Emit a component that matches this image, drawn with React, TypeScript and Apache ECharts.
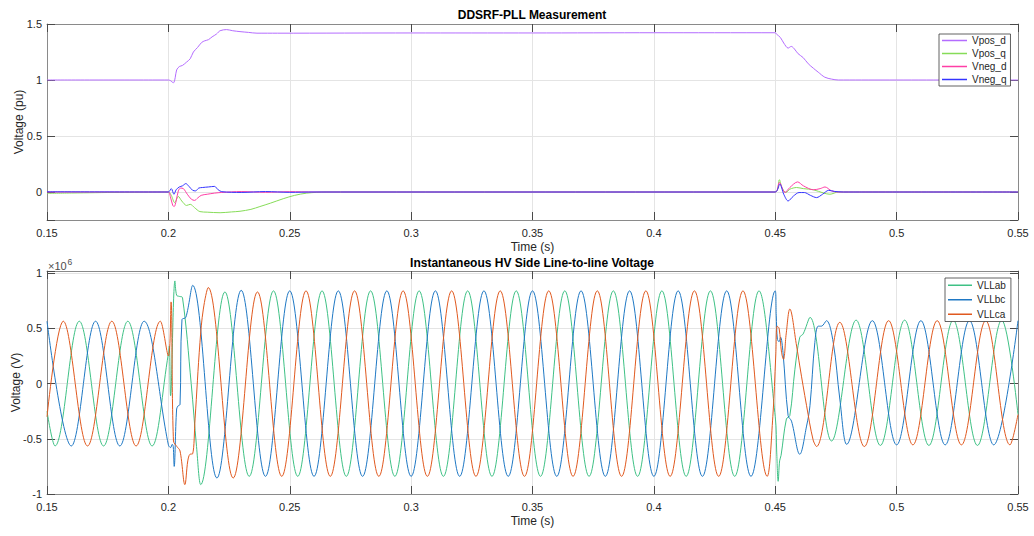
import React, { useEffect, useRef } from "react";
import * as echarts from "echarts";

// ---------- axes ----------
const timeMin = 0.15;
const timeMax = 0.55;
const timeStep = 0.05;
const puMin = -0.25;
const puMax = 1.5;
const puStep = 0.5;
const mvMin = -1;
const mvMax = 1.02;
const mvStep = 0.5;

const topTitle = "DDSRF-PLL Measurement";
const bottomTitle = "Instantaneous HV Side Line-to-line Voltage";
const topNames = ["Vpos_d", "Vpos_q", "Vneg_d", "Vneg_q"];
const bottomNames = ["VLLab", "VLLbc", "VLLca"];

// ---------- top panel (pu) : [time s, value pu] ----------
const vposD: [number, number][] = [
  [0.15, 1.0], [0.2, 1.0], [0.2008, 0.995], [0.2021, 0.975], [0.2028, 1.02], [0.2034, 1.09],
  [0.2045, 1.12], [0.2058, 1.13], [0.2075, 1.16], [0.209, 1.19], [0.2103, 1.25], [0.212, 1.29],
  [0.2137, 1.335], [0.215, 1.35], [0.2165, 1.36], [0.218, 1.385], [0.2198, 1.41], [0.2213, 1.44],
  [0.224, 1.45], [0.2265, 1.44], [0.2295, 1.432], [0.233, 1.425], [0.2365, 1.418], [0.245, 1.418],
  [0.3, 1.42], [0.35, 1.42], [0.4, 1.422], [0.45, 1.422], [0.4505, 1.41], [0.4521, 1.38],
  [0.4535, 1.33], [0.4553, 1.285], [0.4566, 1.3], [0.4578, 1.28], [0.4594, 1.235], [0.4615, 1.2],
  [0.4636, 1.145], [0.4657, 1.105], [0.4677, 1.07], [0.4704, 1.025], [0.4732, 1.008], [0.476, 1.0],
  [0.55, 1.0],
];
const vposQ: [number, number][] = [
  [0.15, -0.012], [0.16, -0.009], [0.17, -0.006], [0.18, -0.003], [0.19, -0.001], [0.2, 0],
  [0.2012, -0.03], [0.2026, -0.095], [0.2041, -0.04], [0.2055, -0.08], [0.2075, -0.12], [0.209, -0.11],
  [0.2108, -0.14], [0.213, -0.175], [0.216, -0.18], [0.2213, -0.185], [0.226, -0.178], [0.2295, -0.172],
  [0.234, -0.155], [0.2377, -0.13], [0.242, -0.1], [0.2473, -0.06], [0.252, -0.03], [0.257, -0.01],
  [0.265, 0], [0.45, 0], [0.4517, 0.11], [0.4527, 0.04], [0.4544, -0.005], [0.456, 0.025],
  [0.4588, 0.04], [0.4616, 0.03], [0.4657, 0.02], [0.47, -0.01], [0.4725, -0.02], [0.476, 0], [0.55, 0],
];
const vnegD: [number, number][] = [
  [0.15, 0], [0.2, 0], [0.2008, -0.04], [0.2018, -0.12], [0.2024, -0.13], [0.2032, -0.08],
  [0.2041, 0.01], [0.205, 0.035], [0.2062, 0.03], [0.2078, -0.02], [0.2095, -0.065], [0.2108, -0.075],
  [0.212, -0.055], [0.2135, -0.03], [0.216, -0.02], [0.219, -0.01], [0.222, -0.004], [0.23, 0.004],
  [0.24, -0.003], [0.25, 0.003], [0.26, 0], [0.45, 0], [0.4517, 0.085], [0.454, -0.005],
  [0.456, 0.04], [0.4592, 0.09], [0.4616, 0.055], [0.4657, 0.02], [0.4685, 0.03], [0.4705, 0.045],
  [0.4732, 0.01], [0.476, 0], [0.55, 0],
];
const vnegQ: [number, number][] = [
  [0.15, 0.002], [0.2, 0], [0.2012, 0.03], [0.2023, -0.02], [0.2032, 0.02], [0.2045, 0.045],
  [0.2058, 0.055], [0.2072, 0.075], [0.2085, 0.05], [0.21, 0.015], [0.2112, 0.01], [0.2125, 0.035],
  [0.214, 0.04], [0.2165, 0.045], [0.219, 0.05], [0.2205, 0.02], [0.222, 0.003], [0.23, -0.004],
  [0.24, 0.004], [0.25, -0.003], [0.26, 0], [0.45, 0], [0.4519, 0.07], [0.4535, -0.02],
  [0.4553, -0.08], [0.4575, -0.036], [0.4598, -0.005], [0.462, -0.005], [0.4645, -0.03],
  [0.467, -0.05], [0.4695, -0.02], [0.472, 0.015], [0.4745, 0.005], [0.478, 0], [0.55, 0],
];

// ---------- bottom panel (x10^6 V) : [time s, value] — peaks, troughs and transient points ----------
const vllAB: [number, number][] = [
  [0.15, -0.25], [0.1533, -0.565], [0.1633, 0.565], [0.1733, -0.565], [0.1833, 0.565], [0.1933, -0.565],
  [0.2, 0.27], [0.2004, 0.34], [0.2009, -0.11], [0.2027, 0.93], [0.2034, 0.8], [0.2045, 0.79],
  [0.2058, 0.78], [0.2094, 0.0], [0.2116, -0.57], [0.2133, -0.915],
  [0.2233, 0.83], [0.2333, -0.84], [0.2433, 0.84], [0.2533, -0.84], [0.2633, 0.84], [0.2733, -0.84],
  [0.2833, 0.84], [0.2933, -0.84], [0.3033, 0.84], [0.3133, -0.84], [0.3233, 0.84], [0.3333, -0.84],
  [0.3433, 0.84], [0.3533, -0.84], [0.3633, 0.84], [0.3733, -0.84], [0.3833, 0.84], [0.3933, -0.84],
  [0.4033, 0.84], [0.4133, -0.84], [0.4233, 0.84], [0.4333, -0.84], [0.4433, 0.84],
  [0.45, -0.3], [0.4506, -0.62], [0.4512, -0.885], [0.4518, -0.7], [0.4524, -0.65], [0.4546, -0.32],
  [0.456, -0.29], [0.4581, 0.13], [0.4601, 0.42], [0.4615, 0.45], [0.4643, 0.6], [0.4732, -0.52],
  [0.4833, 0.575], [0.4933, -0.56], [0.5033, 0.575], [0.5133, -0.56], [0.5233, 0.575], [0.5333, -0.56],
  [0.5433, 0.575], [0.55, -0.28],
];
const vllBC: [number, number][] = [
  [0.15, 0.565], [0.16, -0.565], [0.17, 0.565], [0.18, -0.565], [0.19, 0.565], [0.2, -0.555],
  [0.2009, -0.58], [0.2016, -0.55], [0.202, -0.57], [0.2024, -0.75], [0.2034, -0.23], [0.2041, -0.2],
  [0.2048, -0.19], [0.2056, 0.58], [0.2072, 0.6], [0.21, 0.89],
  [0.22, -0.855], [0.23, 0.845], [0.24, -0.84], [0.25, 0.84], [0.26, -0.84], [0.27, 0.84],
  [0.28, -0.84], [0.29, 0.84], [0.3, -0.84], [0.31, 0.84], [0.32, -0.84], [0.33, 0.84],
  [0.34, -0.84], [0.35, 0.84], [0.36, -0.84], [0.37, 0.84], [0.38, -0.84], [0.39, 0.84],
  [0.4, -0.84], [0.41, 0.84], [0.42, -0.84], [0.43, 0.84], [0.44, -0.84], [0.45, 0.84],
  [0.4504, 0.62], [0.4509, 0.4], [0.4516, 0.38], [0.4522, 0.42], [0.4532, 0.28], [0.4553, -0.29],
  [0.4567, -0.34], [0.4601, -0.64], [0.4629, -0.385], [0.4643, -0.2], [0.4663, 0.37], [0.4677, 0.52],
  [0.469, 0.52], [0.4711, 0.57], [0.4739, 0.37], [0.4766, -0.14], [0.4794, -0.55],
  [0.49, 0.57], [0.5, -0.555], [0.51, 0.57], [0.52, -0.555], [0.53, 0.57], [0.54, -0.555], [0.55, 0.57],
];
const vllCA: [number, number][] = [
  [0.15, -0.3], [0.1567, 0.565], [0.1667, -0.565], [0.1767, 0.565], [0.1867, -0.565], [0.1967, 0.565],
  [0.2, 0.25], [0.2011, 0.74], [0.2021, -0.52], [0.2035, -0.57], [0.2048, -0.61], [0.2068, -0.915],
  [0.208, -0.7], [0.2089, -0.64], [0.21, -0.636], [0.211, -0.32], [0.213, 0.37], [0.2144, 0.675],
  [0.2164, 0.87],
  [0.2267, -0.855], [0.2367, 0.83], [0.2467, -0.84], [0.2567, 0.84], [0.2667, -0.84], [0.2767, 0.84],
  [0.2867, -0.84], [0.2967, 0.84], [0.3067, -0.84], [0.3167, 0.84], [0.3267, -0.84], [0.3367, 0.84],
  [0.3467, -0.84], [0.3567, 0.84], [0.3667, -0.84], [0.3767, 0.84], [0.3867, -0.84], [0.3967, 0.84],
  [0.4067, -0.84], [0.4167, 0.84], [0.4267, -0.84], [0.4367, 0.84], [0.4467, -0.84],
  [0.449, -0.3], [0.4502, 0.25], [0.4508, 0.52], [0.4516, 0.5], [0.4526, 0.28], [0.4534, 0.22],
  [0.4545, 0.45], [0.456, 0.675], [0.4588, 0.34], [0.4601, 0.16], [0.4629, -0.2], [0.4656, -0.51],
  [0.467, -0.57], [0.4766, 0.555], [0.4867, -0.57], [0.4967, 0.57], [0.5067, -0.555], [0.5167, 0.57],
  [0.5267, -0.555], [0.5367, 0.57], [0.5467, -0.555], [0.55, -0.28],
];

// ---------- styles ----------
const FONT = "'Liberation Sans', Arial, Helvetica, sans-serif";
const AXIS_COLOR = "#8a8a8a";
const TICK_COLOR = "#4a4a4a";
const GRID_COLOR = "#e4e4e4";
const TEXT_COLOR = "#262626";
const topColors = ["#b46cff", "#86dc58", "#ff3fa6", "#3434ff"];
const bottomColors = ["#3fc185", "#1f78c4", "#e0591f"];

const isMultiple = (v: number, step: number) => Math.abs(v / step - Math.round(v / step)) < 1e-6;

// legend icon: a thin horizontal stroke inside an item box of w x h (corner specks keep the box size)
const lineIcon = (w: number, h: number) =>
  `path://M0,0h0.001v0.001h-0.001z M0,${h / 2 - 0.75}h${w}v1.5h-${w}z M${w - 0.001},${h - 0.001}h0.001v0.001h-0.001z`;

function xAxisFor(gridIndex: number, position: "bottom" | "top") {
  const main = position === "bottom";
  return {
    type: "value",
    gridIndex,
    position,
    min: timeMin,
    max: timeMax,
    interval: timeStep,
    name: main ? "Time (s)" : "",
    nameLocation: "middle",
    nameGap: 21,
    nameMoveOverlap: false,
    nameTextStyle: { fontSize: 12, color: TEXT_COLOR, fontFamily: FONT },
    axisLine: { show: true, onZero: false, lineStyle: { color: AXIS_COLOR, width: 1 } },
    axisTick: { show: true, inside: true, length: 8, lineStyle: { color: TICK_COLOR, width: 1 } },
    axisLabel: { show: main, fontSize: 11, color: TEXT_COLOR, fontFamily: FONT, margin: 7 },
    splitLine: { show: main, lineStyle: { color: GRID_COLOR, width: 1 } },
  };
}

function yAxisFor(gridIndex: number, position: "left" | "right", kind: "pu" | "mv") {
  const main = position === "left";
  const base: any = {
    type: "value",
    gridIndex,
    position,
    name: main ? (kind === "pu" ? "Voltage (pu)" : "Voltage (V)") : "",
    nameLocation: "middle",
    nameGap: kind === "pu" ? 22 : 25,
    nameMoveOverlap: false,
    nameTextStyle: { fontSize: 12, color: TEXT_COLOR, fontFamily: FONT },
    axisLine: { show: true, onZero: false, lineStyle: { color: AXIS_COLOR, width: 1 } },
    axisTick: { show: true, inside: true, length: 8, lineStyle: { color: TICK_COLOR, width: 1 } },
    axisLabel: {
      show: main,
      fontSize: 11,
      color: TEXT_COLOR,
      fontFamily: FONT,
      margin: 5,
      formatter: (v: number) => (isMultiple(v, kind === "pu" ? puStep : mvStep) ? String(Math.round(v * 100) / 100) : ""),
    },
    splitLine: { show: main, lineStyle: { color: GRID_COLOR, width: 1 } },
  };
  if (kind === "pu") {
    base.min = puMin;
    base.max = puMax;
    base.splitNumber = 4;
    base.minInterval = puStep;
    base.maxInterval = puStep;
  } else {
    base.min = mvMin;
    base.max = mvMax;
    base.interval = mvStep;
  }
  return base;
}

function lineSeries(name: string, data: [number, number][], color: string, axisIndex: number, smooth: number) {
  return {
    type: "line",
    name,
    data,
    xAxisIndex: axisIndex,
    yAxisIndex: axisIndex,
    showSymbol: false,
    symbol: "none",
    smooth,
    silent: true,
    lineStyle: { color, width: 1 },
    itemStyle: { color },
    emphasis: { disabled: true },
  };
}

export default function App() {
  const ref = useRef<HTMLDivElement>(null);
  useEffect(() => {
    if (!ref.current) return;
    const chart = echarts.init(ref.current, null, { renderer: "svg" });
    const topIcon = lineIcon(25, 13);
    const bottomIcon = lineIcon(24, 14.5);
    const option: any = {
      animation: false,
      backgroundColor: "#ffffff",
      textStyle: { fontFamily: FONT },
      grid: [
        { left: 47, top: 24, width: 971, height: 196, outerBoundsMode: "none", containLabel: false },
        { left: 47, top: 271, width: 971, height: 223, outerBoundsMode: "none", containLabel: false },
      ],
      xAxis: [xAxisFor(0, "bottom"), xAxisFor(0, "top"), xAxisFor(1, "bottom"), xAxisFor(1, "top")],
      yAxis: [yAxisFor(0, "left", "pu"), yAxisFor(0, "right", "pu"), yAxisFor(1, "left", "mv"), yAxisFor(1, "right", "mv")],
      legend: [
        {
          data: topNames.map((n) => ({ name: n, icon: topIcon })),
          orient: "vertical",
          left: 939,
          top: 34,
          itemWidth: 25,
          itemHeight: 13,
          itemGap: 0,
          padding: [0, 4, 0, 3],
          backgroundColor: "#ffffff",
          borderColor: "#3a3a3a",
          borderWidth: 0.8,
          selectedMode: false,
          itemStyle: { borderWidth: 0 },
          textStyle: { fontSize: 10, color: TEXT_COLOR, fontFamily: FONT },
        },
        {
          data: bottomNames.map((n) => ({ name: n, icon: bottomIcon })),
          orient: "vertical",
          left: 945,
          top: 278,
          itemWidth: 24,
          itemHeight: 14.5,
          itemGap: 0,
          padding: [0, 5, 0, 3],
          backgroundColor: "#ffffff",
          borderColor: "#3a3a3a",
          borderWidth: 0.8,
          selectedMode: false,
          itemStyle: { borderWidth: 0 },
          textStyle: { fontSize: 10, color: TEXT_COLOR, fontFamily: FONT },
        },
      ],
      graphic: [
        {
          type: "text",
          x: 532,
          y: 15,
          style: { text: topTitle, fontSize: 12, fontWeight: "bold", fontFamily: FONT, fill: "#000", align: "center", verticalAlign: "middle" },
        },
        {
          type: "text",
          x: 532,
          y: 263,
          style: { text: bottomTitle, fontSize: 12, fontWeight: "bold", fontFamily: FONT, fill: "#000", align: "center", verticalAlign: "middle" },
        },
        {
          type: "text",
          x: 48,
          y: 266,
          style: { text: "×10", fontSize: 11, fontFamily: FONT, fill: "#4d4d4d", align: "left", verticalAlign: "middle" },
        },
        {
          type: "text",
          x: 67.5,
          y: 261.5,
          style: { text: "6", fontSize: 8.5, fontFamily: FONT, fill: "#4d4d4d", align: "left", verticalAlign: "middle" },
        },
      ],
      series: [
        lineSeries(topNames[0], vposD, topColors[0], 0, 0.3),
        lineSeries(topNames[1], vposQ, topColors[1], 0, 0.3),
        lineSeries(topNames[2], vnegD, topColors[2], 0, 0.3),
        lineSeries(topNames[3], vnegQ, topColors[3], 0, 0.3),
        lineSeries(bottomNames[0], vllAB, bottomColors[0], 2, 0.36),
        lineSeries(bottomNames[1], vllBC, bottomColors[1], 2, 0.36),
        lineSeries(bottomNames[2], vllCA, bottomColors[2], 2, 0.36),
      ],
    };
    chart.setOption(option);
    return () => chart.dispose();
  }, []);
  return (
    <div
      ref={ref}
      style={{ position: "absolute", left: 0, top: 0, width: 1034, height: 536, background: "#fff" }}
    />
  );
}
